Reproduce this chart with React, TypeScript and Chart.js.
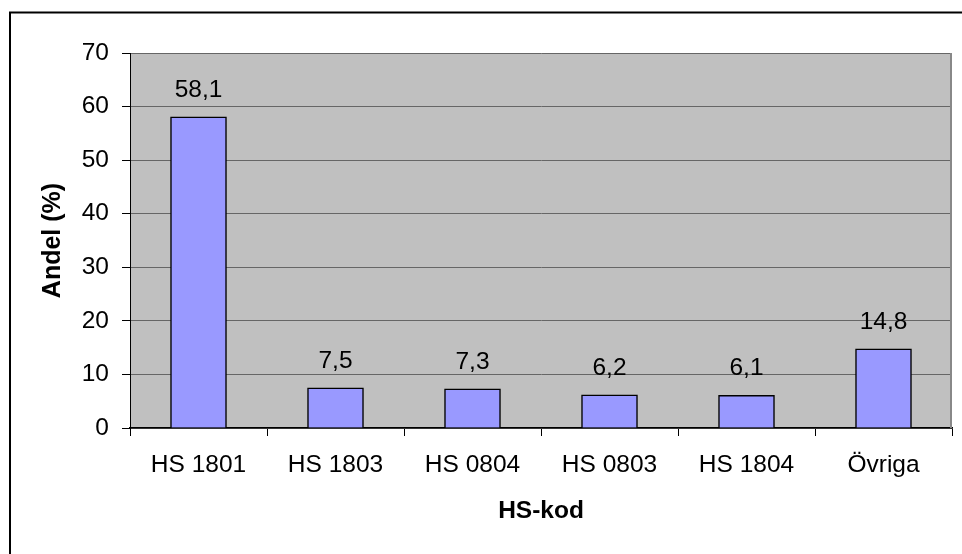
import React, { useEffect, useRef } from "react";
import { Chart, registerables } from "chart.js";

Chart.register(...registerables);

const categories = ["HS 1801", "HS 1803", "HS 0804", "HS 0803", "HS 1804", "Övriga"];
const values = [58.1, 7.5, 7.3, 6.2, 6.1, 14.8];
const valueLabels = ["58,1", "7,5", "7,3", "6,2", "6,1", "14,8"];
const yTitle = "Andel (%)";
const xTitle = "HS-kod";

const FONT = "'Liberation Sans', Arial, sans-serif";

export default function App() {
  const ref = useRef<HTMLCanvasElement | null>(null);
  useEffect(() => {
    document.body.style.margin = "0";
    const canvas = ref.current!;
    const framePlugin = {
      id: "frame",
      beforeDraw(chart: any) {
        const { ctx, chartArea } = chart;
        ctx.save();
        ctx.fillStyle = "#ffffff";
        ctx.fillRect(0, 0, chart.width, chart.height);
        ctx.fillStyle = "#c0c0c0";
        ctx.fillRect(chartArea.left, chartArea.top, chartArea.right - chartArea.left, chartArea.bottom - chartArea.top);
        ctx.restore();
      },
      afterDatasetsDraw(chart: any) {
        const { ctx } = chart;
        const meta = chart.getDatasetMeta(0);
        ctx.save();
        ctx.fillStyle = "#000";
        ctx.font = `24.5px ${FONT}`;
        ctx.textAlign = "center";
        ctx.textBaseline = "alphabetic";
        meta.data.forEach((el: any, i: number) => {
          ctx.fillText(valueLabels[i], el.x, el.y - 20);
        });
        ctx.restore();
      },
      afterDraw(chart: any) {
        const { ctx, chartArea } = chart;
        ctx.save();
        ctx.strokeStyle = "#888";
        ctx.lineWidth = 2;
        ctx.beginPath();
        ctx.moveTo(chartArea.right - 1, chartArea.top);
        ctx.lineTo(chartArea.right - 1, chartArea.bottom);
        ctx.stroke();
        ctx.strokeStyle = "#000";
        ctx.lineWidth = 2;
        ctx.strokeRect(10, 12.5, 3000, 3000);
        ctx.restore();
      },
    };
    const chart = new Chart(canvas, {
      type: "bar",
      data: {
        labels: categories,
        datasets: [
          {
            data: values,
            backgroundColor: "#9999ff",
            borderColor: "#000",
            borderWidth: 1.5,
            barThickness: 56,
          },
        ],
      },
      options: {
        animation: false,
        responsive: false,
        devicePixelRatio: 1,
        layout: { padding: { left: 0, top: 53, right: 10, bottom: 0 } },
        plugins: { legend: { display: false }, tooltip: { enabled: false } },
        scales: {
          x: {
            offset: true,
            grid: { offset: true, drawOnChartArea: false, tickLength: 8, tickColor: "#000", lineWidth: 1 },
            border: { color: "#000", width: 1.5 },
            ticks: { font: { family: FONT, size: 24.5 }, color: "#000", padding: 15, maxRotation: 0 },
            title: { display: true, text: xTitle, font: { family: FONT, size: 24.5, weight: "bold" }, color: "#000", padding: { bottom: 28 } },
            afterFit(scale: any) {
              scale.height = 126;
            },
          },
          y: {
            min: 0,
            max: 70,
            ticks: { stepSize: 10, font: { family: FONT, size: 24.5 }, color: "#000", padding: 13 },
            grid: { color: "#666", lineWidth: 1, tickLength: 8, tickColor: "#000" },
            border: { color: "#000", width: 1 },
            title: { display: true, text: yTitle, font: { family: FONT, size: 25, weight: "bold" }, color: "#000", padding: { top: 38 } },
            afterFit(scale: any) {
              scale.width = 130;
            },
          },
        },
      },
      plugins: [framePlugin],
    });
    return () => chart.destroy();
  }, []);
  return <canvas ref={ref} width={962} height={554} style={{ display: "block" }} />;
}
